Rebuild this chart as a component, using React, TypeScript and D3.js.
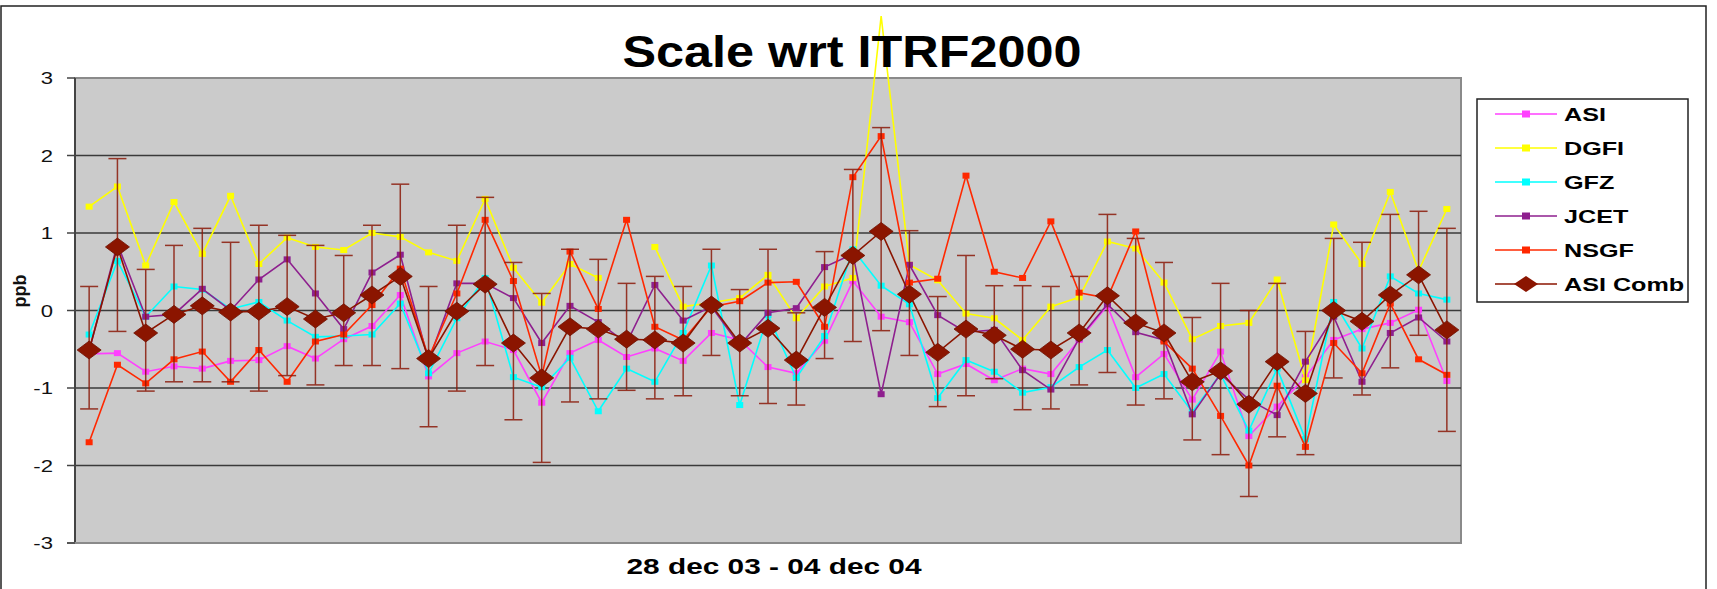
import React from "react";
import * as d3 from "d3";

const weeks: number[] = d3.range(49);

const asi = [-0.56,-0.55,-0.79,-0.72,-0.75,-0.65,-0.64,-0.46,-0.62,-0.37,-0.20,0.20,-0.85,-0.55,-0.40,-0.51,-1.19,-0.55,-0.38,-0.60,-0.49,-0.65,-0.29,-0.38,-0.73,-0.81,-0.39,0.38,-0.08,-0.15,-0.82,-0.69,-0.90,-0.75,-0.82,-0.38,0.06,-0.86,-0.56,-1.15,-0.53,-1.62,-1.24,-0.86,-0.38,-0.24,-0.16,0.01,-0.91];
const dgfi: (number | null)[] = [1.34,1.60,0.58,1.40,0.73,1.48,0.60,0.94,0.82,0.78,1.00,0.95,0.75,0.64,1.44,0.55,0.10,0.60,0.42,null,0.82,0.05,0.10,0.16,0.46,-0.10,0.31,0.42,3.80,0.59,0.39,-0.04,-0.10,-0.38,0.05,0.17,0.89,0.80,0.36,-0.37,-0.20,-0.16,0.40,-0.90,1.11,0.60,1.53,0.51,1.31];
const gfz = [-0.31,0.64,-0.08,0.31,0.27,0.02,0.11,-0.13,-0.34,-0.33,-0.31,0.09,-0.81,-0.10,0.42,-0.86,-0.99,-0.61,-1.30,-0.75,-0.92,-0.29,0.58,-1.22,-0.06,-0.87,-0.33,0.79,0.32,0.08,-1.13,-0.64,-0.79,-1.06,-0.99,-0.73,-0.51,-1.00,-0.82,-1.31,-0.82,-1.55,-0.75,-1.66,0.11,-0.49,0.44,0.22,0.14];
const jcet = [-0.52,0.86,-0.08,-0.05,0.28,0.00,0.40,0.66,0.22,-0.24,0.49,0.72,-0.65,0.35,0.35,0.16,-0.42,0.06,-0.15,-0.42,0.33,-0.13,0.05,-0.45,-0.03,0.03,0.56,0.73,-1.08,0.59,-0.06,-0.28,-0.25,-0.77,-1.02,-0.36,0.08,-0.28,-0.38,-1.34,-0.82,-1.15,-1.35,-0.66,-0.08,-0.92,-0.29,-0.09,-0.40];
const nsgf = [-1.70,-0.70,-0.94,-0.63,-0.53,-0.92,-0.51,-0.92,-0.40,-0.31,0.07,0.54,-0.61,0.22,1.17,0.38,-0.85,0.76,0.02,1.17,-0.21,-0.38,0.05,0.12,0.36,0.37,-0.21,1.72,2.25,0.36,0.41,1.74,0.50,0.42,1.15,0.23,0.16,1.02,-0.40,-0.75,-1.36,-2.00,-0.97,-1.76,-0.42,-0.81,0.09,-0.63,-0.83];
const asiComb = [-0.51,0.82,-0.29,-0.05,0.06,-0.02,-0.01,0.05,-0.11,-0.03,0.20,0.44,-0.62,-0.01,0.34,-0.42,-0.87,-0.21,-0.24,-0.37,-0.38,-0.42,0.07,-0.42,-0.23,-0.64,0.04,0.71,1.02,0.21,-0.54,-0.24,-0.32,-0.50,-0.51,-0.29,0.19,-0.16,-0.29,-0.92,-0.78,-1.21,-0.66,-1.07,0.00,-0.14,0.20,0.46,-0.25];
const errHigh = [0.31,1.96,0.53,0.84,1.06,0.88,1.10,0.97,0.84,0.71,1.10,1.63,0.31,1.10,1.46,0.62,0.22,0.79,0.66,0.35,0.44,0.31,0.79,0.27,0.79,-0.03,0.76,1.82,2.36,1.03,0.18,0.71,0.32,0.32,0.31,0.44,1.24,0.93,0.62,-0.09,0.35,0.00,0.35,-0.27,0.93,0.88,1.24,1.28,1.06];
const errLow = [-1.27,-0.27,-1.04,-0.92,-0.92,-0.92,-1.04,-0.84,-0.96,-0.71,-0.71,-0.75,-1.50,-1.04,-0.71,-1.41,-1.96,-1.18,-1.14,-1.03,-1.14,-1.10,-0.58,-1.10,-1.20,-1.22,-0.62,-0.40,-0.26,-0.58,-1.24,-1.10,-0.88,-1.28,-1.27,-0.96,-0.80,-1.22,-1.14,-1.67,-1.86,-2.40,-1.63,-1.86,-0.87,-1.09,-0.74,-0.32,-1.56];

const seriesNames = ["ASI", "DGFI", "GFZ", "JCET", "NSGF", "ASI Comb"];
const seriesColors = ["#ff40ff", "#ffff00", "#00ffff", "#8e1f8e", "#ff2800", "#8b1500"];
const yTicks = [-3, -2, -1, 0, 1, 2, 3];
const titleText = "Scale wrt ITRF2000";
const xLabelText = "28 dec 03 - 04 dec 04";
const yLabelText = "ppb";

const W = 1717;
const H = 589;
const PL = 75, PR = 1461, PT = 78, PB = 543;

export default function App() {
  const x = d3.scaleBand<number>().domain(weeks).range([PL, PR]);
  const cx = (i: number) => (x(i) as number) + x.bandwidth() / 2;
  const y = d3.scaleLinear().domain([-3, 3]).range([PB, PT]);

  const line = d3
    .line<number | null>()
    .defined((d) => d !== null)
    .x((_, i) => cx(i))
    .y((d) => y(d as number));

  const small = [asi, dgfi, gfz, jcet, nsgf] as (number | null)[][];
  const font = "'Liberation Sans', Arial, sans-serif";
  const errColor = "#8b1a0a";
  const diamond = (px: number, py: number, hw: number, hh: number) =>
    `M${px - hw},${py}L${px},${py - hh}L${px + hw},${py}L${px},${py + hh}Z`;

  return (
    <svg width={W} height={H} style={{ position: "absolute", left: 0, top: 0, background: "#fff" }} fontFamily={font}>
      <rect x={1} y={6} width={1705} height={620} fill="#fff" stroke="#222" strokeWidth={1.5} />
      {/* plot area */}
      <rect x={PL} y={PT} width={PR - PL} height={PB - PT} fill="#cbcbcb" stroke="#8a8a8a" strokeWidth={2} />
      {yTicks.filter((t) => t > -3 && t < 3).map((t) => (
        <line key={"g" + t} x1={PL} x2={PR} y1={y(t)} y2={y(t)} stroke="#3a3a3a" strokeWidth={1.6} />
      ))}
      {/* y axis */}
      <line x1={PL} x2={PL} y1={PT} y2={PB} stroke="#444" strokeWidth={2} />
      <line x1={67} x2={PR} y1={PB} y2={PB} stroke="#8a8a8a" strokeWidth={2} />
      {yTicks.map((t) => (
        <g key={"t" + t}>
          <line x1={67} x2={PL} y1={y(t)} y2={y(t)} stroke="#444" strokeWidth={1.5} />
          <text transform={`translate(53,${y(t) + 6}) scale(1.3,1)`} textAnchor="end" fontSize={17} fill="#111">
            {t}
          </text>
        </g>
      ))}
      <text transform={`translate(26,291) rotate(-90)`} textAnchor="middle" fontSize={18} fontWeight="bold" fill="#111">
        {yLabelText}
      </text>
      {/* series lines */}
      {small.map((s, k) => (
        <g key={"s" + k}>
          <path d={line(s) || ""} fill="none" stroke={seriesColors[k]} strokeWidth={1.6} />
          {s.map((v, i) =>
            v === null || v > 3 ? null : (
              <rect key={i} x={cx(i) - 3.5} y={y(v) - 3} width={7} height={6} fill={seriesColors[k]} />
            )
          )}
        </g>
      ))}
      {/* error bars */}
      {weeks.map((i) => (
        <g key={"e" + i} stroke={errColor} strokeWidth={1.5} opacity={0.85}>
          <line x1={cx(i)} x2={cx(i)} y1={y(errHigh[i])} y2={y(errLow[i])} />
          <line x1={cx(i) - 9} x2={cx(i) + 9} y1={y(errHigh[i])} y2={y(errHigh[i])} />
          <line x1={cx(i) - 9} x2={cx(i) + 9} y1={y(errLow[i])} y2={y(errLow[i])} />
        </g>
      ))}
      <path d={line(asiComb) || ""} fill="none" stroke={seriesColors[5]} strokeWidth={1.6} />
      {asiComb.map((v, i) => (
        <path key={"d" + i} d={diamond(cx(i), y(v), 12, 9)} fill={seriesColors[5]} stroke="#6e1000" strokeWidth={0.8} />
      ))}
      {/* title */}
      <text x={852} y={67} textAnchor="middle" fontSize={44} fontWeight="bold" textLength={459} lengthAdjust="spacingAndGlyphs" fill="#000">
        {titleText}
      </text>
      <text x={774} y={574} textAnchor="middle" fontSize={22} fontWeight="bold" textLength={295} lengthAdjust="spacingAndGlyphs" fill="#000">
        {xLabelText}
      </text>
      {/* legend */}
      <rect x={1477} y={99} width={211} height={203} fill="#fff" stroke="#222" strokeWidth={1.5} />
      {seriesNames.map((n, k) => {
        const ly = 114 + k * 34;
        return (
          <g key={"l" + k}>
            <line x1={1495} x2={1557} y1={ly} y2={ly} stroke={seriesColors[k]} strokeWidth={1.6} />
            {k < 5 ? (
              <rect x={1522} y={ly - 3.5} width={8} height={7} fill={seriesColors[k]} />
            ) : (
              <path d={diamond(1526, ly, 12, 8)} fill={seriesColors[5]} />
            )}
            <text transform={`translate(1564,${ly + 7}) scale(1.36,1)`} fontSize={18.5} fontWeight="bold" fill="#000">
              {n}
            </text>
          </g>
        );
      })}
    </svg>
  );
}
